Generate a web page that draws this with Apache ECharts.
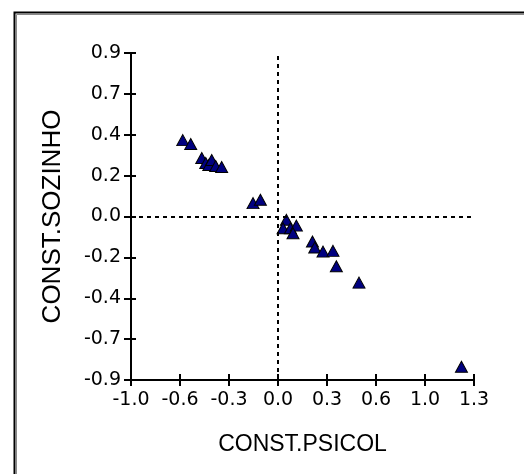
<!DOCTYPE html>
<html>
<head>
<meta charset="utf-8">
<script src="https://cdn.jsdelivr.net/npm/echarts@6/dist/echarts.min.js"></script>
<style>
  html, body { margin: 0; padding: 0; background: #fff; }
  #chart { width: 524px; height: 474px; }
</style>
</head>
<body>
<div id="chart"></div>
<script>
// Scores on the two constructs, one triangle per respondent
const psicol = [-0.622, -0.570, -0.498, -0.472, -0.452, -0.433, -0.407, -0.368,
                -0.163, -0.115,
                0.055, 0.033, 0.081, 0.120, 0.098,
                0.225, 0.240, 0.294, 0.359, 0.381, 0.529, 1.198];
const sozinho = [0.411, 0.390, 0.315, 0.288, 0.277, 0.304, 0.272, 0.266,
                 0.072, 0.090,
                 -0.018, -0.063, -0.063, -0.049, -0.090,
                 -0.135, -0.167, -0.189, -0.185, -0.268, -0.356, -0.809];

// Axis extents and tick step
const xMin = -0.96, xMax = 1.28, xStep = 0.32;
const yMin = -0.88, yMax = 0.88, yStep = 0.22;

const points = psicol.map((x, i) => [x, sozinho[i]]);
const fmt = v => {
  const s = (Math.round(v * 10) / 10).toFixed(1);
  return s === '-0.0' ? '0.0' : s;
};

const nameFont = 'Liberation Sans, Arial, sans-serif';
const tickFont = 'DejaVu Sans, sans-serif';
const axisLine = { show: true, onZero: false, lineStyle: { color: '#000', width: 2 } };

function mainX() {
  return {
    type: 'value', min: xMin, max: xMax, interval: xStep, position: 'bottom',
    name: 'CONST.PSICOL', nameLocation: 'middle', nameGap: 53, nameMoveOverlap: false,
    nameTextStyle: { fontFamily: nameFont, fontSize: 23, color: '#000' },
    axisLine: axisLine,
    axisTick: { show: true, length: 6, lineStyle: { color: '#000', width: 2 } },
    axisLabel: { formatter: fmt, fontFamily: tickFont, fontSize: 19, color: '#000', margin: 11 },
    splitLine: { show: false }
  };
}
function mainY() {
  return {
    type: 'value', min: yMin, max: yMax, interval: yStep, position: 'left',
    name: 'CONST.SOZINHO', nameLocation: 'middle', nameGap: 65, nameMoveOverlap: false,
    nameTextStyle: { fontFamily: nameFont, fontSize: 26, color: '#000' },
    axisLine: axisLine,
    axisTick: { show: true, length: 7, lineStyle: { color: '#000', width: 2 } },
    axisLabel: { formatter: fmt, fontFamily: tickFont, fontSize: 19, color: '#000', margin: 10 },
    splitLine: { show: false }
  };
}

const chart = echarts.init(document.getElementById('chart'), null, { renderer: 'canvas' });
chart.setOption({
  backgroundColor: '#fff',
  animation: false,
  graphic: [
    { type: 'rect', left: 12, top: 10, shape: { width: 620, height: 520 },
      style: { fill: 'none', stroke: '#000', lineWidth: 2 } },
    { type: 'rect', left: 14, top: 12, shape: { width: 620, height: 520 },
      style: { fill: 'none', stroke: '#888', lineWidth: 1 } }
  ],
  grid: { left: 131, right: 50, top: 53, bottom: 94, containLabel: false },
  xAxis: [
    mainX(),
    // inward half of the crossing ticks
    { type: 'value', min: xMin, max: xMax, interval: xStep, position: 'bottom',
      axisLine: { show: false, onZero: false },
      axisTick: { show: true, inside: true, length: 6, lineStyle: { color: '#000', width: 2 } },
      axisLabel: { show: false }, splitLine: { show: false } }
  ],
  yAxis: [
    mainY(),
    { type: 'value', min: yMin, max: yMax, interval: yStep, position: 'left',
      axisLine: { show: false, onZero: false },
      axisTick: { show: true, inside: true, length: 5, lineStyle: { color: '#000', width: 2 } },
      axisLabel: { show: false }, splitLine: { show: false } }
  ],
  series: [{
    type: 'scatter',
    data: points,
    symbol: 'triangle',
    symbolSize: [12, 11],
    itemStyle: { color: '#000080', borderColor: '#000', borderWidth: 1, opacity: 1 },
    markLine: {
      silent: true,
      symbol: 'none',
      label: { show: false },
      lineStyle: { color: '#000', type: [4, 4], width: 2 },
      data: [
        [{ coord: [0, yMin] }, { coord: [0, yMax] }],
        [{ coord: [xMin, 0] }, { coord: [xMax, 0] }]
      ]
    }
  }]
});
</script>
</body>
</html>
